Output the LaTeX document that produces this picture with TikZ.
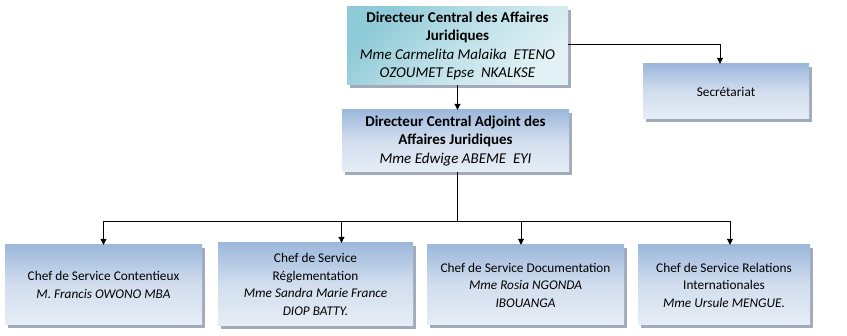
\documentclass[tikz,border=0pt]{standalone}
\usepackage{fontspec}
\setmainfont{Carlito}
\usetikzlibrary{shadows,arrows.meta}
\definecolor{bxdark}{HTML}{9DB8DC}
\definecolor{bxlight}{HTML}{E6EDF6}
\definecolor{bxmid}{HTML}{D2DEEE}
\definecolor{tpdark}{HTML}{8ECAD7}
\definecolor{tplight}{HTML}{E2F1F5}
\definecolor{tpmid}{HTML}{BFE1E9}
\definecolor{shd}{HTML}{8A96A8}
\tikzset{
  orgbox/.style={draw=none, align=center, inner sep=2pt,
    shading=axis, shading angle=-45,
    top color=bxdark, bottom color=bxlight, middle color=bxmid,
    drop shadow={shadow xshift=3pt, shadow yshift=-3pt, fill=shd, opacity=0.8}},
  topbox/.style={orgbox, top color=tpdark, bottom color=tplight, middle color=tpmid, shading angle=45},
  conn/.style={draw=black, line width=0.9pt},
  arr/.style={conn, -{Triangle[length=6pt,width=6pt]}},
  bigtxt/.style={font=\fontsize{15}{18.5}\selectfont},
  smtxt/.style={font=\fontsize{13.3}{17.5}\selectfont}
}
\begin{document}
\begin{tikzpicture}[x=1pt,y=-1pt]
\useasboundingbox (0,0) rectangle (847,336);
\node[topbox, minimum width=221pt, minimum height=78pt, bigtxt] (dir) at (457.5,46)
  {\textbf{Directeur Central des Affaires}\\\textbf{Juridiques}\\{\itshape Mme Carmelita Malaika\ \ ETENO}\\{\itshape OZOUMET Epse\ \ NKALKSE}};
\node[orgbox, minimum width=227pt, minimum height=62pt, bigtxt] (adj) at (455.5,141)
  {\textbf{Directeur Central Adjoint des}\\\textbf{Affaires Juridiques}\\{\itshape Mme Edwige ABEME\ \ EYI}};
\node[orgbox, minimum width=166pt, minimum height=55pt, smtxt] (sec) at (726,91.5) {Secrétariat};
\node[orgbox, minimum width=197pt, minimum height=80pt, smtxt] (b1) at (103.5,285)
  {Chef de Service Contentieux\\{\itshape M. Francis OWONO MBA}};
\node[orgbox, minimum width=195pt, minimum height=83pt, smtxt] (b2) at (315.5,284.5)
  {Chef de Service\\Réglementation\\{\itshape Mme Sandra Marie France}\\{\itshape DIOP BATTY.}};
\node[orgbox, minimum width=197pt, minimum height=80pt, smtxt] (b3) at (525.5,285)
  {Chef de Service Documentation\\{\itshape Mme Rosia NGONDA}\\{\itshape IBOUANGA}};
\node[orgbox, minimum width=172pt, minimum height=80pt, smtxt] (b4) at (724,285)
  {Chef de Service Relations\\Internationales\\{\itshape Mme Ursule MENGUE.}};
\coordinate (hub) at (457,221.5);
\coordinate (secin) at (720,44);
\draw[arr] (dir.south) -- (dir.south |- adj.north);
\draw[arr] (dir.east |- secin) -| ([xshift=-6pt]sec.north);
\draw[conn] (457,172) -- (hub);
\draw[arr] (hub) -| (b1.north);
\draw[arr] (hub) -| ([xshift=26pt]b2.north);
\draw[arr] (hub) -| ([xshift=-4.5pt]b3.north);
\draw[arr] (hub) -| ([xshift=6pt]b4.north);
\end{tikzpicture}
\end{document}
